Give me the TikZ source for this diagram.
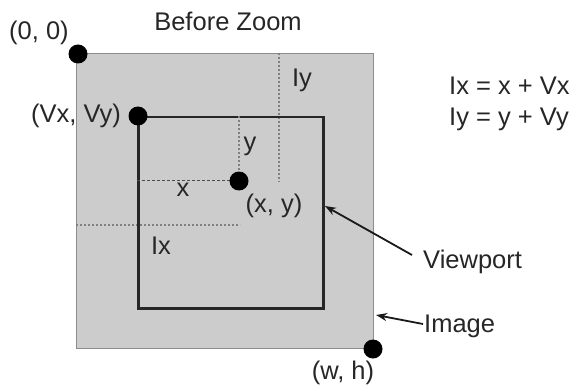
\documentclass[tikz,border=0pt]{standalone}
\usepackage{fontspec}
\setmainfont{Liberation Sans}
\usetikzlibrary{arrows.meta}
\begin{document}
\begin{tikzpicture}[x=1pt,y=-1pt,
  lbl/.style={inner sep=0pt,font=\fontsize{25.5}{29}\selectfont,text=black!85},
  dot/.style={circle,fill=black,inner sep=0pt,minimum size=19pt},
  guide/.style={draw=black!50,line width=2pt,dash pattern=on 2pt off 2pt},
  ptr/.style={draw=black!90,line width=1.8pt,-{Stealth[length=11pt,width=8pt]}}]
\useasboundingbox (0,0) rectangle (577,390);
% image rectangle
\node[draw=black!45,fill=black!20,line width=1pt,minimum width=297pt,minimum height=295pt,inner sep=0pt,anchor=north west] (img) at (76,53) {};
% guides
\coordinate (iytop) at (279,53);
\coordinate (iybot) at (279,182);
\draw[guide] (iytop) -- (iybot);
\coordinate (ixl) at (76,225);
\coordinate (ixr) at (240,225);
\draw[guide] (ixl) -- (ixr);
% viewport
\node[draw=black!85,line width=2.5pt,minimum width=185pt,minimum height=191pt,inner sep=0pt,anchor=north west] (vp) at (137,116) {};
\coordinate (xl) at (137,180);
\coordinate (ytop) at (239,116);
\draw[guide] (ytop) -- (239,180);
\draw[draw=black!70,line width=1pt,dash pattern=on 3pt off 2pt] (xl) -- (239,180);
% dots
\node[dot] (p00) at (78,54) {};
\node[dot] (pv) at (138,116) {};
\node[dot] (pxy) at (239,181) {};
\node[dot] (pwh) at (373,349) {};
% labels
\node[lbl] (t) at (228,21) {Before Zoom};
\node[lbl] (l00) at (39,33) {(0, 0)};
\node[lbl] (lv) at (76,116) {(Vx, Vy)};
\node[lbl] (ly) at (250,146) {y};
\node[lbl] (lx) at (183,190) {x};
\node[lbl] (lxy) at (274,206) {(x, y)};
\node[lbl] (lIy) at (302,80) {Iy};
\node[lbl] (lIx) at (161,246) {Ix};
\node[lbl] (lwh) at (343,373) {(w, h)};
\node[lbl,anchor=west] (eq1) at (449,86) {Ix = x + Vx};
\node[lbl,anchor=west] (eq2) at (449,119) {Iy = y + Vy};
\node[lbl,anchor=west] (lvp) at (423,262) {Viewport};
\node[lbl,anchor=west] (limg) at (424,326) {Image};
\draw[ptr] (lvp.west) ++(-11,-7) -- (325,206);
\draw[ptr] (limg.west) ++(-1,-2) -- (376,315);
\end{tikzpicture}
\end{document}
